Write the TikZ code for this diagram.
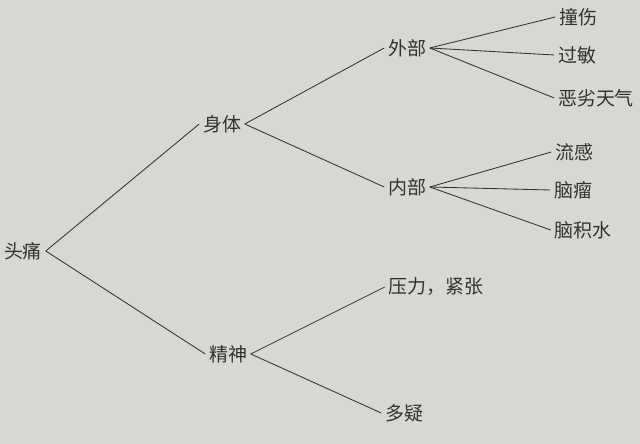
\documentclass[tikz,border=0pt]{standalone}
\usepackage{fontspec}
\setmainfont{Noto Sans CJK SC}
\usepackage{tikz}
\usetikzlibrary{positioning}
\usetikzlibrary{arrows}
\definecolor{paper}{RGB}{216,215,211}
\definecolor{ink}{RGB}{50,50,50}
\tikzset{
  item/.style={text=ink,inner sep=2.5pt,font=\fontsize{13.5}{15}\selectfont},
  branch/.style={draw=ink,line width=0.6pt}
}

\begin{document}
\begin{tikzpicture}[x=0.025cm,y=-0.025cm]
		\fill[paper] (0,0) rectangle (640,444);
		\useasboundingbox (0,0) rectangle (640,444);
		\node[item] (tou) at (23,251) {头痛};
		\node[item] (shenti) at (222,124) {身体};
		\node[item] (jingshen) at (228,354) {精神};
		\node[item] (waibu) at (407,48) {外部};
		\node[item] (neibu) at (407,187) {内部};
		\node[item] (zhuang) at (578,17) {撞伤};
		\node[item] (guomin) at (577,55) {过敏};
		\node[item] (tianqi) at (596,98) {恶劣天气};
		\node[item] (liugan) at (574,152) {流感};
		\node[item] (naoliu) at (573,190) {脑瘤};
		\node[item] (jishui) at (583,230) {脑积水};
		\node[item] (yali) at (436,287) {压力，紧张};
		\node[item] (duoyi) at (404,413) {多疑};
		\begin{scope}[every path/.style={branch}]
		  \draw (tou.east) -- (shenti.west);
		  \draw (tou.east) -- (jingshen.west);
		  \draw (shenti.east) -- (waibu.west);
		  \draw (shenti.east) -- (neibu.west);
		  \draw (waibu.east) -- (zhuang.west);
		  \draw (waibu.east) -- (guomin.west);
		  \draw (waibu.east) -- (tianqi.west);
		  \draw (neibu.east) -- (liugan.west);
		  \draw (neibu.east) -- (naoliu.west);
		  \draw (neibu.east) -- (jishui.west);
		  \draw (jingshen.east) -- (yali.west);
		  \draw (jingshen.east) -- (duoyi.west);
		\end{scope}
	\end{tikzpicture}
\end{document}
